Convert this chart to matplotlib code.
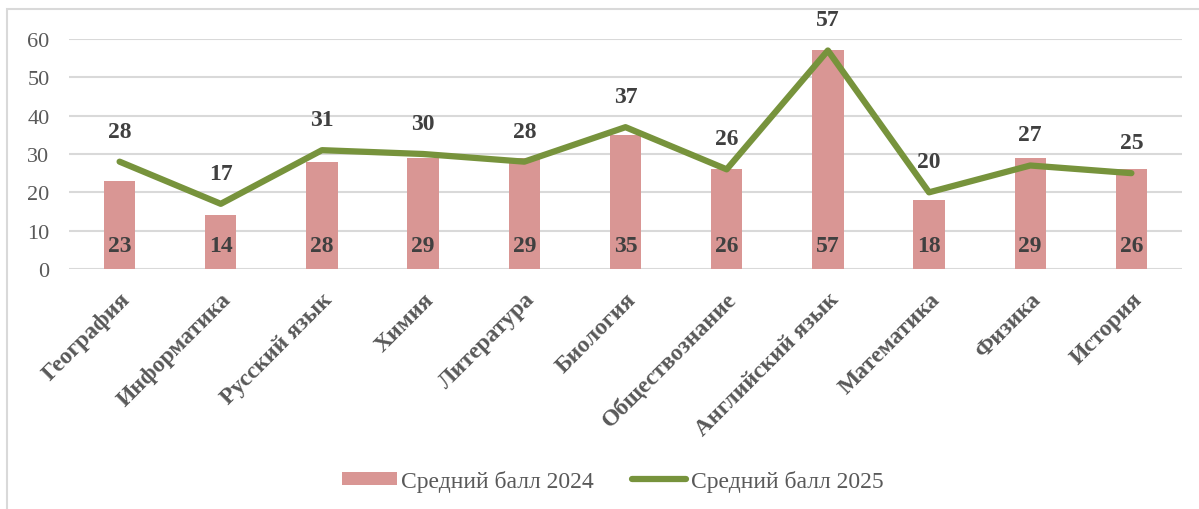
import matplotlib.pyplot as plt
from matplotlib.patches import Rectangle

subjects = ['География', 'Информатика', 'Русский язык', 'Химия', 'Литература',
            'Биология', 'Обществознание', 'Английский язык', 'Математика',
            'Физика', 'История']
score_2024 = [23, 14, 28, 29, 29, 35, 26, 57, 18, 29, 26]
score_2025 = [28, 17, 31, 30, 28, 37, 26, 57, 20, 27, 25]

plt.rcParams['font.family'] = ['Liberation Serif', 'DejaVu Serif']

fig = plt.figure(figsize=(11.99, 5.10), dpi=100)
# light outer frame like the chart area border
fig.patches.append(Rectangle((7 / 1199, -0.1), 1.2, 1 - 10 / 510 + 0.1,
                             transform=fig.transFigure, fill=False,
                             edgecolor='#d9d9d9', linewidth=1.5))
ax = fig.add_axes([69 / 1199, 1 - 270 / 510, (1182 - 69) / 1199, 230 / 510])

x = list(range(len(subjects)))
bars = ax.bar(x, score_2024, width=0.31, color='#d99694', zorder=2,
              label='Средний балл 2024')
line, = ax.plot(x, score_2025, color='#77933c', linewidth=4.5, zorder=3,
                solid_capstyle='round', label='Средний балл 2025')

for xi, v in zip(x, score_2024):
    ax.text(xi, 6, str(v), ha='center', va='center', fontsize=17,
            fontweight='bold', color='#404040', zorder=4)
for xi, v in zip(x, score_2025):
    ax.annotate(str(v), (xi, v), xytext=(0, 22), textcoords='offset points',
                ha='center', va='center', fontsize=17, fontweight='bold',
                color='#404040', zorder=4, annotation_clip=False)

ax.set_xlim(-0.5, len(subjects) - 0.5)
ax.set_ylim(0, 60)
ax.set_yticks(range(0, 61, 10))
ax.yaxis.grid(True, color='#d9d9d9', linewidth=1.5, zorder=0)
ax.set_axisbelow(True)
for s in ax.spines.values():
    s.set_visible(False)
ax.tick_params(axis='both', length=0)
ax.tick_params(axis='y', labelsize=16, labelcolor='#595959', pad=14)
ax.set_xticks(x)
ax.set_xticklabels(subjects, rotation=45, ha='right', rotation_mode='anchor',
                   fontsize=17, fontweight='bold', color='#595959')
ax.tick_params(axis='x', pad=14)

leg = fig.legend(handles=[bars, line], loc='center',
                 bbox_to_anchor=(613 / 1199, 1 - 482 / 510),
                 ncol=2, frameon=False, fontsize=17, handlelength=2.3,
                 handleheight=0.5, columnspacing=1.6, handletextpad=0.2)
for t in leg.get_texts():
    t.set_color('#595959')

fig.savefig('out.png', dpi=100)
